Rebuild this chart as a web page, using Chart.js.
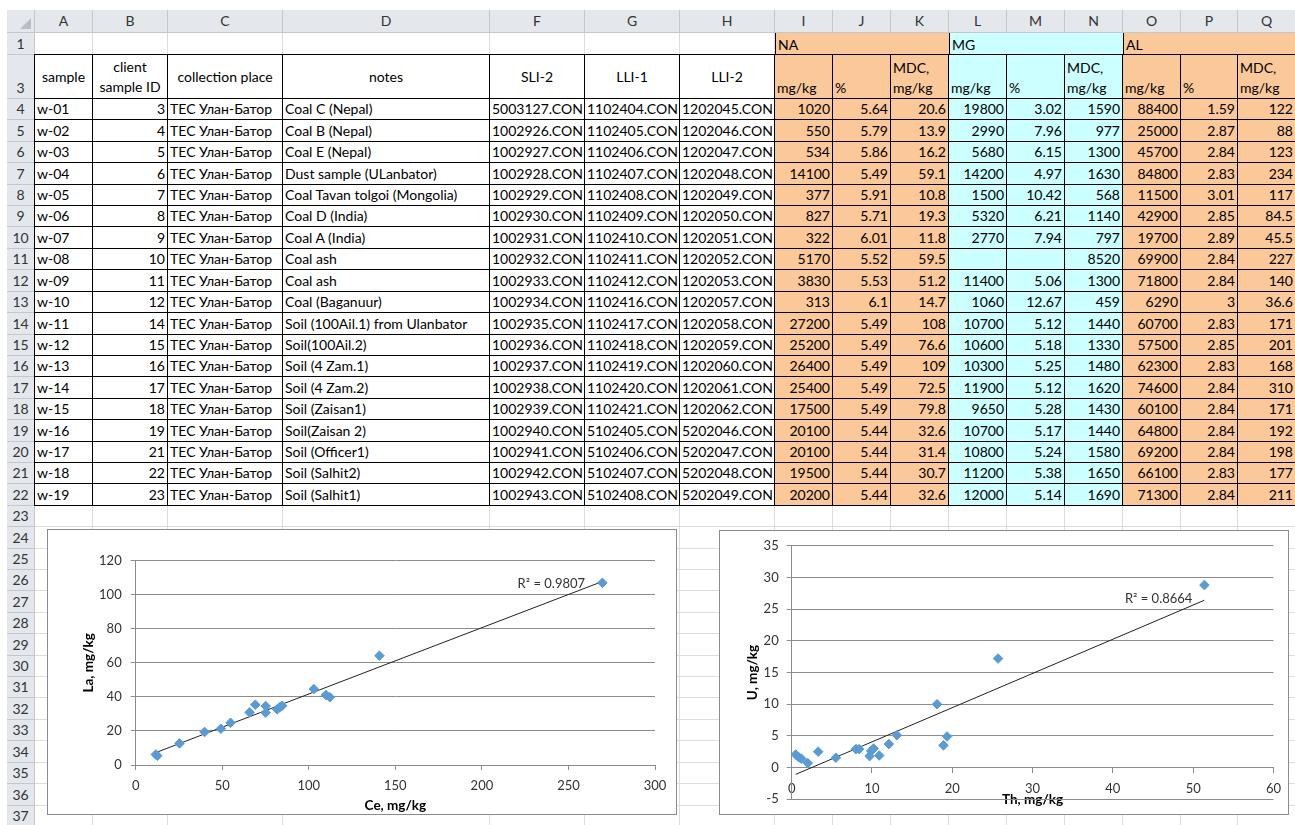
<!DOCTYPE html>
<html lang="en">
<head>
<meta charset="UTF-8" />
<title>Coal and soil samples, Ulaanbaatar</title>
<script src="https://cdn.jsdelivr.net/npm/chart.js"></script>
<style>
  body { margin: 0; background: #fff; font-family: Lato, "Noto Sans", sans-serif; }
  #sheet { position: relative; width: 1295px; height: 825px; overflow: hidden; background: #fff; }
  .c { position: absolute; box-sizing: border-box; font-size: 14px; line-height: 20px; color: #000;
       white-space: nowrap; overflow: hidden; padding: 0 2px; display: flex; align-items: center; }
  .grid { border-right: 1px solid #dadcdd; border-bottom: 1px solid #dadcdd; }
  .boxed { border: 1px solid #000; }
  .hdr { background: #e4e7ec; color: #333; justify-content: center; border-right: 1px solid #c3c8cf; border-bottom: 1px solid #c3c8cf; }
  .l { justify-content: flex-start; }
  .r { justify-content: flex-end; }
  .m { justify-content: center; text-align: center; }
  .b { align-items: flex-end; }
  .chartbox { position: absolute; box-sizing: border-box; border: 1px solid #8c8c8c; background: #fff; }
  .chartbox canvas { position: absolute; left: -1px; top: -1px; }
</style>
</head>
<body>
<div id="sheet"></div>

<script>
  // chart data
  const ceValues = [11.6, 12.5, 25.3, 39.8, 49.2, 54.8, 65.8, 69.1, 75.1, 75.1, 81.7, 83.2, 84.6, 102.9, 109.9, 112.2, 140.8, 269.6];
  const laValues = [6.2, 5.4, 12.7, 19.4, 21.3, 24.8, 30.9, 35.4, 34.6, 30.7, 32.7, 33.9, 34.8, 44.6, 41.1, 39.8, 64.2, 107.0];
  const thValues = [0.5, 0.9, 1.2, 2.0, 3.3, 5.5, 8.0, 8.4, 9.7, 9.9, 10.2, 10.9, 12.1, 13.1, 18.1, 18.9, 19.35, 25.7, 51.4];
  const uValues  = [2.05, 1.6, 1.4, 0.7, 2.5, 1.55, 2.9, 2.9, 1.8, 2.6, 3.0, 1.9, 3.7, 5.1, 10.0, 3.5, 4.9, 17.2, 28.8];
  const ceTicks = [0, 50, 100, 150, 200, 250, 300];
  const laTicks = [0, 20, 40, 60, 80, 100, 120];
  const thTicks = [0, 10, 20, 30, 40, 50, 60];
  const uTicks  = [-5, 0, 5, 10, 15, 20, 25, 30, 35];
  const r2Texts = ['R\u00b2 = 0.9807', 'R\u00b2 = 0.8664'];

  // sheet contents
  const colLetters = ['A','B','C','D','F','G','H','I','J','K','L','M','N','O','P','Q'];
  const groupLabels = { 7: 'NA', 10: 'MG', 13: 'AL' };
  const headerRow = ['sample', 'client<br>sample ID', 'collection place', 'notes', 'SLI-2', 'LLI-1', 'LLI-2',
    'mg/kg', '%', 'MDC,<br>mg/kg', 'mg/kg', '%', 'MDC,<br>mg/kg', 'mg/kg', '%', 'MDC,<br>mg/kg'];
  const place = 'ТЕС Улан-Батор';
  const dataRows = [
    ['w-01','3',place,'Coal C (Nepal)','5003127.CON','1102404.CON','1202045.CON','1020','5.64','20.6','19800','3.02','1590','88400','1.59','122'],
    ['w-02','4',place,'Coal B (Nepal)','1002926.CON','1102405.CON','1202046.CON','550','5.79','13.9','2990','7.96','977','25000','2.87','88'],
    ['w-03','5',place,'Coal E (Nepal)','1002927.CON','1102406.CON','1202047.CON','534','5.86','16.2','5680','6.15','1300','45700','2.84','123'],
    ['w-04','6',place,'Dust sample (ULanbator)','1002928.CON','1102407.CON','1202048.CON','14100','5.49','59.1','14200','4.97','1630','84800','2.83','234'],
    ['w-05','7',place,'Coal Tavan tolgoi (Mongolia)','1002929.CON','1102408.CON','1202049.CON','377','5.91','10.8','1500','10.42','568','11500','3.01','117'],
    ['w-06','8',place,'Coal D (India)','1002930.CON','1102409.CON','1202050.CON','827','5.71','19.3','5320','6.21','1140','42900','2.85','84.5'],
    ['w-07','9',place,'Coal A (India)','1002931.CON','1102410.CON','1202051.CON','322','6.01','11.8','2770','7.94','797','19700','2.89','45.5'],
    ['w-08','10',place,'Coal ash','1002932.CON','1102411.CON','1202052.CON','5170','5.52','59.5','','','8520','69900','2.84','227'],
    ['w-09','11',place,'Coal ash','1002933.CON','1102412.CON','1202053.CON','3830','5.53','51.2','11400','5.06','1300','71800','2.84','140'],
    ['w-10','12',place,'Coal (Baganuur)','1002934.CON','1102416.CON','1202057.CON','313','6.1','14.7','1060','12.67','459','6290','3','36.6'],
    ['w-11','14',place,'Soil (100Ail.1) from Ulanbator','1002935.CON','1102417.CON','1202058.CON','27200','5.49','108','10700','5.12','1440','60700','2.83','171'],
    ['w-12','15',place,'Soil(100Ail.2)','1002936.CON','1102418.CON','1202059.CON','25200','5.49','76.6','10600','5.18','1330','57500','2.85','201'],
    ['w-13','16',place,'Soil (4 Zam.1)','1002937.CON','1102419.CON','1202060.CON','26400','5.49','109','10300','5.25','1480','62300','2.83','168'],
    ['w-14','17',place,'Soil (4 Zam.2)','1002938.CON','1102420.CON','1202061.CON','25400','5.49','72.5','11900','5.12','1620','74600','2.84','310'],
    ['w-15','18',place,'Soil (Zaisan1)','1002939.CON','1102421.CON','1202062.CON','17500','5.49','79.8','9650','5.28','1430','60100','2.84','171'],
    ['w-16','19',place,'Soil(Zaisan 2)','1002940.CON','5102405.CON','5202046.CON','20100','5.44','32.6','10700','5.17','1440','64800','2.84','192'],
    ['w-17','21',place,'Soil (Officer1)','1002941.CON','5102406.CON','5202047.CON','20100','5.44','31.4','10800','5.24','1580','69200','2.84','198'],
    ['w-18','22',place,'Soil (Salhit2)','1002942.CON','5102407.CON','5202048.CON','19500','5.44','30.7','11200','5.38','1650','66100','2.83','177'],
    ['w-19','23',place,'Soil (Salhit1)','1002943.CON','5102408.CON','5202049.CON','20200','5.44','32.6','12000','5.14','1690','71300','2.84','211']
  ];

  // layout of the sheet
  const COL_X = [7, 35, 93, 168, 283, 490, 585, 680, 775, 833, 891, 949, 1007, 1065, 1123, 1181, 1238, 1296];
  const ORANGE = '#fbc899', CYAN = '#ccffff';
  const sheet = document.getElementById('sheet');

  const rows = [{ label: '1', y0: 33, y1: 55 }, { label: '3', y0: 55, y1: 99 }];
  for (let r = 4; r <= 37; r++) {
    rows.push({ label: String(r), y0: Math.round(99 + (r - 4) * 21.41), y1: Math.round(99 + (r - 3) * 21.41) });
  }

  function addCell(x0, y0, x1, y1, html, cls, bg) {
    const d = document.createElement('div');
    d.className = 'c ' + cls;
    if (cls.indexOf('boxed') >= 0) { x0 -= 1; y0 -= 1; }
    d.style.left = x0 + 'px';
    d.style.top = y0 + 'px';
    d.style.width = (x1 - x0) + 'px';
    d.style.height = (y1 - y0) + 'px';
    if (bg) d.style.background = bg;
    if (html) d.innerHTML = html;
    sheet.appendChild(d);
    return d;
  }

  function fillFor(col) {
    if (col >= 10 && col <= 12) return CYAN;
    if (col >= 7) return ORANGE;
    return null;
  }

  // column headers + corner
  const corner = addCell(COL_X[0], 10, COL_X[1], 33, '', 'hdr');
  corner.innerHTML = '<div style="position:absolute;right:3px;bottom:3px;width:0;height:0;border-left:11px solid transparent;border-bottom:11px solid #b9bec5"></div>';
  colLetters.forEach((L, k) => addCell(COL_X[k + 1], 10, COL_X[k + 2], 33, L, 'hdr'));

  rows.forEach((row, ri) => {
    addCell(COL_X[0], row.y0, COL_X[1], row.y1, row.label, 'hdr' + (ri === 1 ? ' b' : ''));
    for (let k = 0; k < 16; k++) {
      const x0 = COL_X[k + 1], x1 = COL_X[k + 2];
      if (ri === 0) {
        // row 1: group titles over the element columns
        if (k >= 7) {
          const d = addCell(x0, row.y0, x1, row.y1, groupLabels[k] || '', 'l b', fillFor(k));
          if (groupLabels[k]) d.style.borderLeft = '1px solid #000';
          d.style.overflow = 'visible';
        } else {
          addCell(x0, row.y0, x1, row.y1, '', 'grid');
        }
      } else if (ri === 1) {
        const cls = k < 7 ? 'boxed m' : 'boxed l b';
        addCell(x0, row.y0, x1, row.y1, '<span>' + headerRow[k] + '</span>', cls, fillFor(k));
      } else if (ri - 2 < dataRows.length) {
        const v = dataRows[ri - 2][k];
        const align = (k === 1 || k >= 7) ? 'r' : 'l';
        addCell(x0, row.y0, x1, row.y1, v, 'boxed ' + align, fillFor(k));
      } else {
        addCell(x0, row.y0, x1, row.y1, '', 'grid');
      }
    }
  });

  // charts
  Chart.defaults.font.family = 'Lato, "Noto Sans", sans-serif';
  Chart.defaults.font.size = 13;
  Chart.defaults.color = '#333';

  function linFit(xs, ys) {
    const n = xs.length;
    const mx = xs.reduce((a, b) => a + b, 0) / n;
    const my = ys.reduce((a, b) => a + b, 0) / n;
    let sxy = 0, sxx = 0;
    for (let i = 0; i < n; i++) { sxy += (xs[i] - mx) * (ys[i] - my); sxx += (xs[i] - mx) * (xs[i] - mx); }
    const m = sxy / sxx;
    return { m: m, b: my - m * mx };
  }

  const r2Label = {
    id: 'r2Label',
    afterDatasetsDraw(chart, args, opts) {
      const { ctx, scales: { x, y } } = chart;
      ctx.save();
      ctx.font = '13px Lato, "Noto Sans", sans-serif';
      ctx.fillStyle = '#333';
      ctx.textAlign = 'right';
      ctx.textBaseline = 'middle';
      ctx.fillText(opts.text, x.getPixelForValue(opts.x), y.getPixelForValue(opts.y));
      ctx.restore();
    }
  };

  function makeChart(box, xs, ys, xTicks, yTicks, xTitle, yTitle, g, r2) {
    const div = document.createElement('div');
    div.className = 'chartbox';
    div.style.left = box.left + 'px';
    div.style.top = box.top + 'px';
    div.style.width = box.w + 'px';
    div.style.height = box.h + 'px';
    const cv = document.createElement('canvas');
    cv.width = box.w; cv.height = box.h;
    div.appendChild(cv);
    sheet.appendChild(div);

    const pts = xs.map((x, i) => ({ x: x, y: ys[i] }));
    const fit = linFit(xs, ys);
    const x0 = Math.min(...xs), x1 = Math.max(...xs);
    const trend = [{ x: x0, y: fit.m * x0 + fit.b }, { x: x1, y: fit.m * x1 + fit.b }];
    const gridCol = '#8c8c8c';

    return new Chart(cv, {
      type: 'scatter',
      data: {
        datasets: [{
          data: pts,
          pointStyle: 'rectRot',
          pointRadius: 4.8,
          backgroundColor: '#5b9bd5',
          borderColor: '#5b9bd5',
          borderWidth: 1
        }, {
          type: 'line',
          data: trend,
          borderColor: '#222',
          borderWidth: 1,
          pointRadius: 0,
          fill: false
        }]
      },
      options: {
        responsive: false,
        animation: false,
        layout: { padding: g.pad },
        plugins: { legend: { display: false }, tooltip: { enabled: false }, r2Label: r2 },
        scales: {
          x: {
            type: 'linear',
            position: g.xPos,
            min: xTicks[0], max: xTicks[xTicks.length - 1],
            ticks: { stepSize: xTicks[1] - xTicks[0], padding: g.xTickPad, color: '#333' },
            grid: { drawOnChartArea: false, drawTicks: true, tickLength: 5, color: gridCol },
            border: { color: gridCol },
            title: { display: true, text: xTitle, font: { weight: 'bold', size: 13.5 }, color: '#000', padding: { top: 0, bottom: g.xTitlePad } },
            afterFit: s => { s.height = g.xH; }
          },
          y: {
            type: 'linear',
            min: yTicks[0], max: yTicks[yTicks.length - 1],
            ticks: { stepSize: yTicks[1] - yTicks[0], padding: g.yTickPad, color: '#333' },
            grid: { color: gridCol, tickLength: 5 },
            border: { color: gridCol },
            title: { display: true, text: yTitle, font: { weight: 'bold', size: 13.5 }, color: '#000', padding: { top: g.yTitlePad, bottom: 0 } },
            afterFit: s => { s.width = g.yW; }
          }
        }
      },
      plugins: [r2Label]
    });
  }

  makeChart({ left: 47, top: 529, w: 630, h: 286 }, ceValues, laValues, ceTicks, laTicks, 'Ce, mg/kg', 'La, mg/kg',
    { pad: { left: 0, top: 31.7, right: 22, bottom: 0 }, xPos: 'bottom', xH: 50, yW: 88.7,
      xTickPad: 8, yTickPad: 9, xTitlePad: 1.2, yTitlePad: 34 },
    { text: r2Texts[0], x: 259.6, y: 106.7 });

  makeChart({ left: 719, top: 530, w: 570, h: 285 }, thValues, uValues, thTicks, uTicks, 'Th, mg/kg', 'U, mg/kg',
    { pad: { left: 0, top: 15.3, right: 15, bottom: 0 }, xPos: { y: 0 }, xH: 36.1, yW: 72.7,
      xTickPad: 8, yTickPad: 8, xTitlePad: -4.5, yTitlePad: 25.5 },
    { text: r2Texts[1], x: 49.9, y: 26.7 });
</script>
</body>
</html>
